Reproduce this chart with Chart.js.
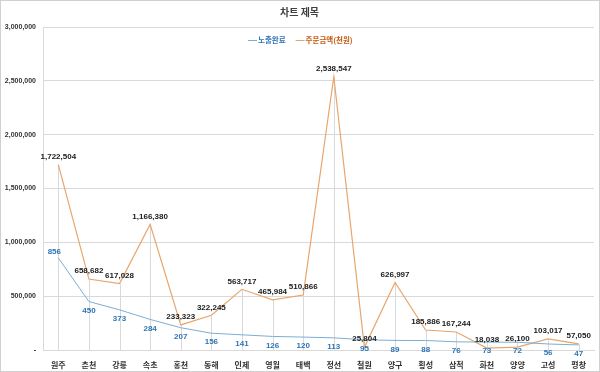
<!DOCTYPE html>
<html>
<head>
<meta charset="utf-8">
<script src="https://cdn.jsdelivr.net/npm/chart.js@4.4.1/dist/chart.umd.min.js"></script>
<style>
  html, body { margin: 0; padding: 0; background: #fff; }
  #wrap { width: 600px; height: 372px; }
</style>
</head>
<body>
<div id="wrap"><canvas id="chart" width="600" height="372"></canvas></div>
<script>
// 지역
const regions = ['원주', '춘천', '강릉', '속초', '홍천', '동해', '인제', '영월', '태백',
                 '정선', '철원', '양구', '횡성', '삼척', '화천', '양양', '고성', '평창'];
// 노출완료 (건)
const exposed = [856, 450, 373, 284, 207, 156, 141, 126, 120, 113, 95, 89, 88, 76, 73, 72, 56, 47];
// 주문금액 (천원)
const orders = [1722504, 658682, 617028, 1166380, 233323, 322245, 563717, 465984, 510866,
                2538547, 25804, 626997, 185886, 167244, 18038, 26100, 103017, 57050];
// 왼쪽 축 눈금
const yTicks = [0, 500000, 1000000, 1500000, 2000000, 2500000, 3000000];

const FONT = "'Noto Sans CJK KR', 'Noto Sans', sans-serif";
const NUM_FONT = "'Liberation Sans', Arial, sans-serif";
const BLUE = '#7aaed6';
const BLUE_TXT = '#2e75b6';
const ORANGE = '#e8a56c';
const ORANGE_TXT = '#c55a11';
const fmt = v => v.toLocaleString('en-US');

// 바깥 테두리
const frame = {
    id: 'frame',
    afterDraw(chart) {
        const c = chart.ctx;
        c.save();
        c.strokeStyle = '#d0d0d0';
        c.lineWidth = 1;
        c.strokeRect(0.5, 0.5, chart.width - 1, chart.height - 1);
        c.restore();
    }
};

// 세로 드롭 라인
const dropLines = {
    id: 'dropLines',
    beforeDatasetsDraw(chart) {
        const c = chart.ctx;
        const x = chart.scales.x, y = chart.scales.y, y1 = chart.scales.y1;
        c.save();
        c.strokeStyle = '#d9d9d9';
        c.lineWidth = 1;
        regions.forEach((r, i) => {
            const px = Math.round(x.getPixelForValue(i)) + 0.5;
            const top = Math.min(y.getPixelForValue(orders[i]), y1.getPixelForValue(exposed[i]));
            c.beginPath();
            c.moveTo(px, top);
            c.lineTo(px, chart.chartArea.bottom);
            c.stroke();
        });
        c.restore();
    }
};

// 데이터 레이블
const labels = {
    id: 'labels',
    afterDatasetsDraw(chart) {
        const c = chart.ctx;
        c.save();
        c.font = `bold 8px ${NUM_FONT}`;
        c.textAlign = 'center';
        c.textBaseline = 'middle';
        chart.getDatasetMeta(1).data.forEach((p, i) => {
            c.fillStyle = '#1a1a1a';
            c.fillText(fmt(orders[i]), p.x, p.y - 8);
        });
        chart.getDatasetMeta(0).data.forEach((p, i) => {
            c.fillStyle = BLUE_TXT;
            if (i === 0) c.fillText(fmt(exposed[i]), p.x - 4, p.y - 6);
            else c.fillText(fmt(exposed[i]), p.x, p.y + 9);
        });
        c.restore();
    }
};

// 범례
const legendBox = {
    id: 'legendBox',
    afterDraw(chart) {
        const c = chart.ctx;
        const y = chart.chartArea.top + 13;
        const items = [['노출완료', BLUE, BLUE_TXT], ['주문금액(천원)', ORANGE, ORANGE_TXT]];
        c.save();
        c.font = `bold 7.5px ${FONT}`;
        c.textBaseline = 'middle';
        let x = chart.chartArea.left + 205;
        items.forEach((it) => {
            c.strokeStyle = it[1];
            c.lineWidth = 1;
            c.beginPath();
            c.moveTo(x, y + 0.5);
            c.lineTo(x + 9, y + 0.5);
            c.stroke();
            c.fillStyle = it[2];
            c.fillText(it[0], x + 10, y);
            x += 11 + c.measureText(it[0]).width + 9;
        });
        c.restore();
    }
};

new Chart(document.getElementById('chart'), {
    type: 'line',
    data: {
        labels: regions,
        datasets: [{
            label: '노출완료',
            data: exposed,
            yAxisID: 'y1',
            borderColor: BLUE,
            borderWidth: 1,
            pointRadius: 0,
            tension: 0
        }, {
            label: '주문금액(천원)',
            data: orders,
            yAxisID: 'y',
            borderColor: ORANGE,
            borderWidth: 1.2,
            pointRadius: 0,
            tension: 0
        }]
    },
    options: {
        responsive: false,
        animation: false,
        layout: { padding: { left: 5, right: 6, top: 0, bottom: 0 } },
        plugins: {
            legend: { display: false },
            tooltip: { enabled: false },
            title: {
                display: true,
                text: '차트 제목',
                color: '#404040',
                font: { family: FONT, size: 10, weight: 'bold', lineHeight: 1.2 },
                padding: { top: 6, bottom: 9 }
            }
        },
        scales: {
            x: {
                offset: true,
                grid: { display: false },
                border: { display: true, color: '#d9d9d9' },
                ticks: {
                    color: '#333',
                    padding: 2,
                    autoSkip: false,
                    maxRotation: 0,
                    font: { family: FONT, size: 8, weight: 'bold' }
                },
                afterFit(s) { s.height = 22; }
            },
            y: {
                min: 0,
                max: 3000000,
                afterBuildTicks(s) { s.ticks = yTicks.map(v => ({ value: v })); },
                grid: { color: '#d9d9d9', drawTicks: false },
                border: { display: true, color: '#d9d9d9' },
                ticks: {
                    color: '#333',
                    padding: 7,
                    font: { family: NUM_FONT, size: 7, weight: 'bold' },
                    callback: v => v === 0 ? '-' : fmt(v)
                },
                afterFit(s) { s.width = 38; }
            },
            y1: {
                display: false,
                min: 0,
                max: 3000
            }
        }
    },
    plugins: [dropLines, labels, legendBox, frame]
});
</script>
</body>
</html>
